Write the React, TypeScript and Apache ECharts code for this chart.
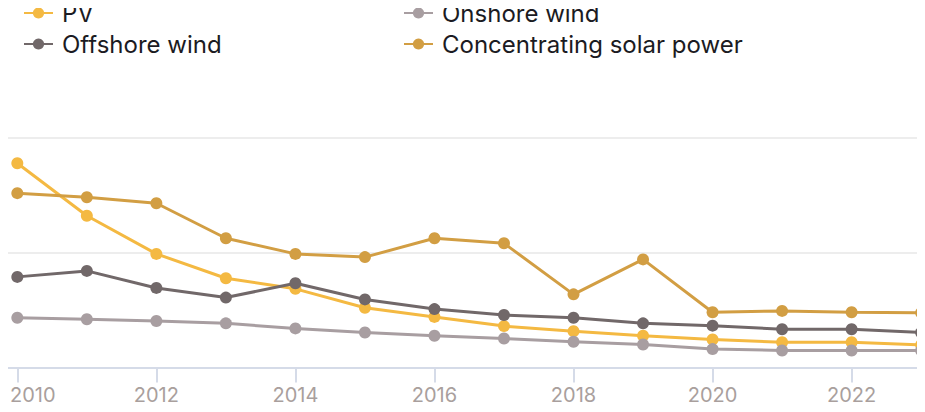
import React, { useEffect, useRef } from "react";
import * as echarts from "echarts";

const years = [2010, 2011, 2012, 2013, 2014, 2015, 2016, 2017, 2018, 2019, 2020, 2021, 2022, 2023];
const tickYears = [2010, 2012, 2014, 2016, 2018, 2020, 2022];

const pv = [0.444, 0.330, 0.247, 0.194, 0.171, 0.130, 0.110, 0.090, 0.079, 0.069, 0.061, 0.055, 0.055, 0.049];
const onshoreWind = [0.108, 0.105, 0.101, 0.096, 0.085, 0.076, 0.069, 0.063, 0.056, 0.050, 0.040, 0.037, 0.037, 0.037];
const offshoreWind = [0.197, 0.210, 0.173, 0.152, 0.183, 0.148, 0.127, 0.114, 0.108, 0.096, 0.091, 0.083, 0.083, 0.076];
const csp = [0.379, 0.370, 0.357, 0.281, 0.247, 0.240, 0.281, 0.270, 0.159, 0.235, 0.120, 0.123, 0.120, 0.119];

const seriesNames = ["PV", "Onshore wind", "Offshore wind", "Concentrating solar power"];
const seriesValues = [pv, onshoreWind, offshoreWind, csp];
const seriesColors = ["#F4B942", "#A89EA1", "#716869", "#D29E43"];

const FONT = "Inter, 'Noto Sans', sans-serif";

export default function App() {
  const ref = useRef<HTMLDivElement>(null);
  useEffect(() => {
    if (!ref.current) return;
    const chart = echarts.init(ref.current, null, { renderer: "svg" });
    const legendPos = [
      { left: 23, top: 1 },
      { left: 403, top: 1 },
      { left: 23, top: 32 },
      { left: 403, top: 32 },
    ];
    chart.setOption({
      animation: false,
      legend: seriesNames.map((name, i) => ({
        data: [name],
        left: legendPos[i].left,
        top: legendPos[i].top,
        itemWidth: 29,
        itemHeight: 14,
        padding: 0,
        selectedMode: false,
        textStyle: {
          fontFamily: FONT,
          fontSize: 24,
          color: "#1b1b22",
          padding: [0, 0, 0, 4],
        },
      })),
      grid: { left: 8, top: 137.5, width: 934, height: 230, containLabel: false },
      xAxis: {
        type: "value",
        min: 2009.866,
        max: 2023.3,
        z: 5,
        splitLine: { show: false },
        axisLine: { show: true, lineStyle: { color: "#D5DBE8", width: 2 } },
        axisTick: {
          show: true,
          length: 15,
          lineStyle: { color: "#D5DBE8", width: 2 },
          customValues: tickYears,
        },
        axisLabel: {
          customValues: tickYears,
          margin: 17,
          fontFamily: FONT,
          fontSize: 20,
          color: "#A99F9D",
          formatter: (v: number) => (v === 2010 ? "{first|2010}" : String(v)),
          rich: {
            first: {
              fontFamily: FONT,
              fontSize: 20,
              color: "#A99F9D",
              padding: [0, 0, 0, 31],
            },
          },
        },
      },
      yAxis: {
        type: "value",
        min: 0,
        max: 0.5,
        interval: 0.25,
        axisLabel: { show: false },
        axisLine: { show: false },
        axisTick: { show: false },
        splitLine: { show: true, lineStyle: { color: "#E7E7E7", width: 1.5 } },
      },
      series: seriesNames.map((name, i) => ({
        name,
        type: "line",
        data: years.map((y, j) => [y, seriesValues[i][j]]),
        symbol: "circle",
        symbolSize: 12,
        showSymbol: true,
        color: seriesColors[i],
        lineStyle: { width: 3, color: seriesColors[i] },
        itemStyle: { color: seriesColors[i] },
        emphasis: { disabled: true },
        clip: false,
      })),
    });
    return () => chart.dispose();
  }, []);
  return (
    <div style={{ width: 925, height: 412, overflow: "hidden", margin: "-8px 0 0 -8px" }}>
      <div ref={ref} style={{ width: 948, height: 412 }} />
    </div>
  );
}
